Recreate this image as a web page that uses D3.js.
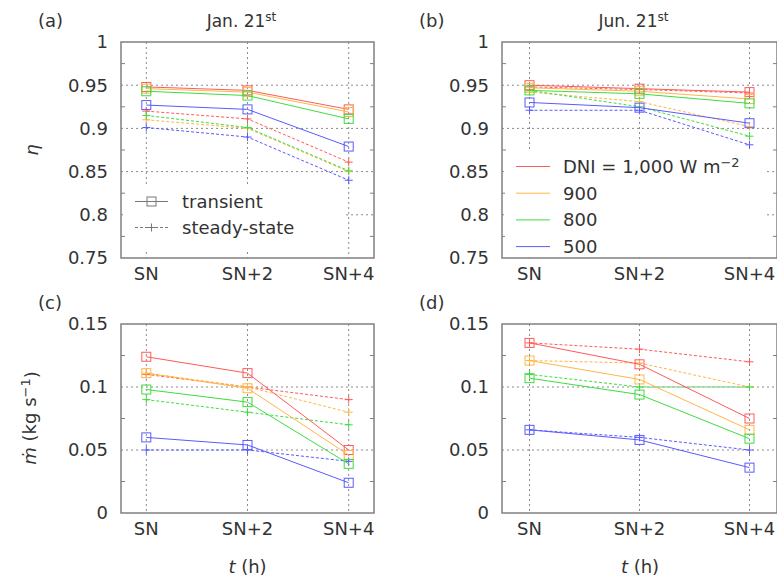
<!DOCTYPE html>
<html>
<head>
<meta charset="utf-8">
<script src="https://cdn.jsdelivr.net/npm/d3@7"></script>
<style>
  body { margin: 0; background: #fff; }
  text { font-family: "DejaVu Sans", sans-serif; fill: #333; }
</style>
</head>
<body>
<svg id="chart" width="777" height="581"></svg>
<script>
// x categories (hours after solar noon)
const timeLabels = ["SN", "SN+2", "SN+4"];
const hours = [0, 2, 4];

// legend labels, in order red, orange, green, blue
const dniLabels = ["1,000", "900", "800", "500"];

// efficiency eta, Jan. 21st (one row per DNI level)
const etaJanTransient = [
  [0.948, 0.944, 0.922],
  [0.946, 0.942, 0.919],
  [0.943, 0.938, 0.911],
  [0.927, 0.922, 0.879]
];
const etaJanSteady = [
  [0.920, 0.911, 0.861],
  [0.910, 0.900, 0.850],
  [0.915, 0.901, 0.851],
  [0.901, 0.890, 0.840]
];

// efficiency eta, Jun. 21st
const etaJunTransient = [
  [0.950, 0.946, 0.942],
  [0.947, 0.943, 0.934],
  [0.944, 0.940, 0.929],
  [0.930, 0.924, 0.906]
];
const etaJunSteady = [
  [0.948, 0.945, 0.941],
  [0.942, 0.931, 0.902],
  [0.944, 0.925, 0.891],
  [0.921, 0.921, 0.881]
];

// mass flow rate (kg/s), Jan. 21st
const mdotJanTransient = [
  [0.124, 0.111, 0.050],
  [0.111, 0.099, 0.046],
  [0.098, 0.088, 0.039],
  [0.060, 0.054, 0.024]
];
const mdotJanSteady = [
  [0.110, 0.100, 0.090],
  [0.111, 0.100, 0.080],
  [0.090, 0.080, 0.070],
  [0.050, 0.050, 0.041]
];

// mass flow rate (kg/s), Jun. 21st
const mdotJunTransient = [
  [0.135, 0.118, 0.075],
  [0.121, 0.106, 0.066],
  [0.107, 0.094, 0.059],
  [0.066, 0.058, 0.036]
];
const mdotJunSteady = [
  [0.135, 0.130, 0.120],
  [0.121, 0.119, 0.100],
  [0.110, 0.100, 0.100],
  [0.066, 0.060, 0.050]
];

const etaTicks = [0.75, 0.8, 0.85, 0.9, 0.95, 1];
const mdotTicks = [0, 0.05, 0.1, 0.15];

const colors = ["#ff5a5a", "#ffb648", "#3fdc3f", "#5a5aff"];
const frameColor = "#808080";

const svg = d3.select("#chart");

const panels = [
  { tag: "(a)", month: "Jan. 21", left: 121, right: 374, top: 42, bottom: 258,
    domain: [0.75, 1], ticks: etaTicks, minorStep: 0.025,
    transient: etaJanTransient, steady: etaJanSteady, legend: "type" },
  { tag: "(b)", month: "Jun. 21", left: 502, right: 777, top: 42, bottom: 258,
    domain: [0.75, 1], ticks: etaTicks, minorStep: 0.025,
    transient: etaJunTransient, steady: etaJunSteady, legend: "dni" },
  { tag: "(c)", left: 121, right: 374, top: 324, bottom: 513,
    domain: [0, 0.15], ticks: mdotTicks, minorStep: 0.025,
    transient: mdotJanTransient, steady: mdotJanSteady },
  { tag: "(d)", left: 502, right: 777, top: 324, bottom: 513,
    domain: [0, 0.15], ticks: mdotTicks, minorStep: 0.025,
    transient: mdotJunTransient, steady: mdotJunSteady }
];

function drawSquare(g, x, y, color) {
  g.append("rect")
    .attr("x", x - 4.5).attr("y", y - 4.5)
    .attr("width", 9).attr("height", 9)
    .attr("fill", "none").attr("stroke", color).attr("stroke-width", 1);
}

function drawPlus(g, x, y, color) {
  g.append("path")
    .attr("d", `M${x - 4},${y}H${x + 4}M${x},${y - 4}V${y + 4}`)
    .attr("stroke", color).attr("stroke-width", 1);
}

panels.forEach(p => {
  const x = d3.scaleLinear().domain([-0.5, 4.5]).range([p.left, p.right]);
  const y = d3.scaleLinear().domain(p.domain).range([p.bottom, p.top]);
  const g = svg.append("g");

  // minor ticks on left and right spines
  const minor = d3.range(p.domain[0] + p.minorStep, p.domain[1], p.minorStep * 2);
  minor.forEach(v => {
    g.append("line").attr("x1", p.left).attr("x2", p.left + 4)
      .attr("y1", y(v)).attr("y2", y(v)).attr("stroke", frameColor);
    g.append("line").attr("x1", p.right - 4).attr("x2", p.right)
      .attr("y1", y(v)).attr("y2", y(v)).attr("stroke", frameColor);
  });

  // dotted grid
  p.ticks.filter(v => v > p.domain[0] && v < p.domain[1]).forEach(v => {
    g.append("line").attr("x1", p.left).attr("x2", p.right)
      .attr("y1", y(v)).attr("y2", y(v))
      .attr("stroke", "#8a8a8a").attr("stroke-dasharray", "2,3");
  });
  hours.forEach(h => {
    g.append("line").attr("x1", x(h)).attr("x2", x(h))
      .attr("y1", p.top).attr("y2", p.bottom)
      .attr("stroke", "#8a8a8a").attr("stroke-dasharray", "2,3");
  });

  // y tick labels
  p.ticks.forEach(v => {
    g.append("text").attr("x", p.left - 13).attr("y", y(v)).attr("dy", "0.36em")
      .attr("text-anchor", "end").attr("font-size", 18)
      .text(String(+v.toFixed(3)));
  });

  // x tick labels
  hours.forEach((h, i) => {
    g.append("text").attr("x", x(h)).attr("y", p.bottom + 22)
      .attr("text-anchor", "middle").attr("font-size", 18)
      .text(timeLabels[i]);
  });

  // series
  const line = d3.line().x((d, i) => x(hours[i])).y(d => y(d));
  p.steady.forEach((row, k) => {
    g.append("path").datum(row).attr("d", line)
      .attr("fill", "none").attr("stroke", colors[k]).attr("stroke-width", 1)
      .attr("stroke-dasharray", "3,2");
    row.forEach((v, i) => drawPlus(g, x(hours[i]), y(v), colors[k]));
  });
  p.transient.forEach((row, k) => {
    g.append("path").datum(row).attr("d", line)
      .attr("fill", "none").attr("stroke", colors[k]).attr("stroke-width", 1);
    row.forEach((v, i) => drawSquare(g, x(hours[i]), y(v), colors[k]));
  });

  // legends
  if (p.legend === "type") {
    const lg = g.append("g");
    lg.append("rect").attr("x", p.left + 4).attr("y", 184)
      .attr("width", 218).attr("height", 66).attr("fill", "#fff");
    const rows = [{ label: "transient", y: 201.5, dash: null, mark: drawSquare },
                  { label: "steady-state", y: 227.5, dash: "3,2", mark: drawPlus }];
    rows.forEach(r => {
      lg.append("line").attr("x1", 135).attr("x2", 168).attr("y1", r.y).attr("y2", r.y)
        .attr("stroke", "#777").attr("stroke-dasharray", r.dash);
      r.mark(lg, 151.5, r.y, "#777");
      lg.append("text").attr("x", 182).attr("y", r.y).attr("dy", "0.36em")
        .attr("font-size", 18).text(r.label);
    });
  }
  if (p.legend === "dni") {
    const lg = g.append("g");
    lg.append("rect").attr("x", p.left + 3).attr("y", 151)
      .attr("width", 260).attr("height", 105).attr("fill", "#fff");
    dniLabels.forEach((lab, k) => {
      const yy = 166.5 + k * 26.7;
      lg.append("line").attr("x1", 516).attr("x2", 550).attr("y1", yy).attr("y2", yy)
        .attr("stroke", colors[k]);
      const t = lg.append("text").attr("x", 563).attr("y", yy).attr("dy", "0.36em")
        .attr("font-size", 18);
      if (k === 0) {
        t.append("tspan").text("DNI = " + lab + " W m");
        t.append("tspan").attr("dy", "-0.45em").attr("font-size", 13).text("\u22122");
      } else {
        t.text(lab);
      }
    });
  }

  // frame
  g.append("rect").attr("x", p.left).attr("y", p.top)
    .attr("width", p.right - p.left).attr("height", p.bottom - p.top)
    .attr("fill", "none").attr("stroke", frameColor).attr("stroke-width", 1.5);

  // panel tag and title
  g.append("text").attr("x", p.left - 83).attr("y", p.top - 15)
    .attr("font-size", 18).text(p.tag);
  if (p.month) {
    const t = g.append("text").attr("x", (p.left + p.right) / 2 - 6).attr("y", 27)
      .attr("text-anchor", "middle").attr("font-size", 17);
    t.append("tspan").text(p.month);
    t.append("tspan").attr("dy", "-0.5em").attr("font-size", 12).text("st");
  }
});

// y axis labels
svg.append("text")
  .attr("transform", "translate(38,150) rotate(-90)")
  .attr("text-anchor", "middle").attr("font-size", 18).attr("font-style", "italic")
  .text("\u03b7");
const ml = svg.append("text")
  .attr("transform", "translate(36,418) rotate(-90)")
  .attr("text-anchor", "middle").attr("font-size", 18);
ml.append("tspan").attr("font-style", "italic").text("\u1e41");
ml.append("tspan").text(" (kg s");
ml.append("tspan").attr("dy", "-0.45em").attr("font-size", 13).text("\u22121");
ml.append("tspan").attr("dy", "0.45em").text(")");

// x axis labels
[247.5, 640].forEach(cx => {
  const t = svg.append("text").attr("x", cx).attr("y", 573)
    .attr("text-anchor", "middle").attr("font-size", 18);
  t.append("tspan").attr("font-style", "italic").text("t");
  t.append("tspan").text(" (h)");
});
</script>
</body>
</html>
